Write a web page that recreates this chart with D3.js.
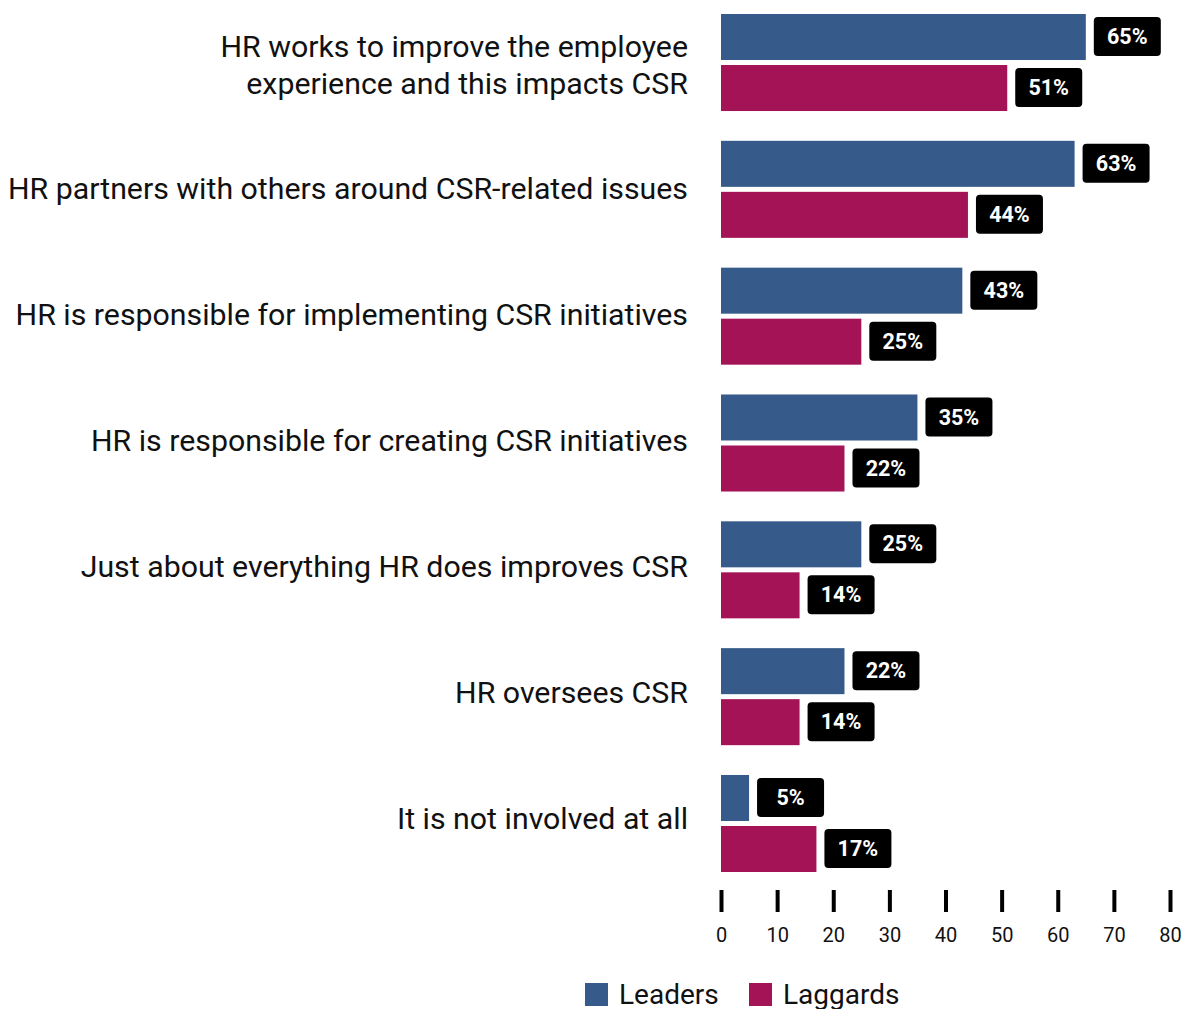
<!DOCTYPE html>
<html>
<head>
<meta charset="utf-8">
<script src="https://cdn.jsdelivr.net/npm/d3@7"></script>
<style>
  html, body { margin: 0; padding: 0; background: #fff; }
  svg { display: block; font-family: Roboto, "Noto Sans", sans-serif; }
</style>
</head>
<body>
<svg id="chart" width="1182" height="1009"></svg>
<script>
// How HR relates to corporate social responsibility, leaders vs laggards (% of respondents)
const categories = [
  ["HR works to improve the employee", "experience and this impacts CSR"],
  ["HR partners with others around CSR-related issues"],
  ["HR is responsible for implementing CSR initiatives"],
  ["HR is responsible for creating CSR initiatives"],
  ["Just about everything HR does improves CSR"],
  ["HR oversees CSR"],
  ["It is not involved at all"]
];
const seriesNames = ["Leaders", "Laggards"];
const leaders  = [65, 63, 43, 35, 25, 22, 5];
const laggards = [51, 44, 25, 22, 14, 14, 17];
const tickValues = [0, 10, 20, 30, 40, 50, 60, 70, 80];
const colors = ["#365a89", "#a41356"];

const svg = d3.select("#chart");
const catKeys = categories.map(c => c.join(" "));
const rows = catKeys.map((k, i) => ({ key: k, lines: categories[i], values: [leaders[i], laggards[i]] }));

const x = d3.scaleLinear().domain([0, 80]).range([721, 1170]);
const y0 = d3.scaleBand().domain(catKeys).range([14, 872]).paddingInner(0.235).paddingOuter(0);
const y1 = d3.scaleBand().domain(seriesNames).range([0, y0.bandwidth()]).paddingInner(0.098).paddingOuter(0);
// baselines of the category labels
const yLabel = d3.scalePoint().domain(catKeys).range([73, 829]);
const color = d3.scaleOrdinal().domain(seriesNames).range(colors);

// category labels, right aligned next to the bars
const labels = svg.append("g").selectAll("text").data(rows).join("text")
  .attr("x", 688)
  .attr("text-anchor", "end")
  .attr("font-size", 30.3)
  .attr("fill", "#111");
labels.each(function (d) {
  const base = yLabel(d.key);
  const lh = 37;
  const n = d.lines.length;
  d3.select(this).selectAll("tspan").data(d.lines).join("tspan")
    .attr("x", 688)
    .attr("y", (_, j) => base + (j - (n - 1) / 2) * lh + (n > 1 ? 2 : 0))
    .text(t => t);
});

// grouped bars
const groups = svg.append("g").selectAll("g").data(rows).join("g")
  .attr("transform", d => `translate(0,${y0(d.key)})`);

const cells = groups.selectAll("g").data(d => d.values.map((v, i) => ({ s: seriesNames[i], v }))).join("g");

cells.append("rect")
  .attr("x", x(0))
  .attr("y", d => y1(d.s))
  .attr("width", d => x(d.v) - x(0))
  .attr("height", y1.bandwidth())
  .attr("fill", d => color(d.s));

// value badges
const boxW = 67, boxH = 39;
cells.append("rect")
  .attr("x", d => x(d.v) + 8)
  .attr("y", d => y1(d.s) + y1.bandwidth() / 2 - boxH / 2 - 0.5)
  .attr("width", boxW)
  .attr("height", boxH)
  .attr("rx", 4)
  .attr("fill", "#000");

cells.append("text")
  .attr("x", d => x(d.v) + 8 + boxW / 2)
  .attr("y", d => y1(d.s) + y1.bandwidth() / 2 - 0.5)
  .attr("dy", "0.35em")
  .attr("text-anchor", "middle")
  .attr("font-size", 21.5)
  .attr("font-weight", "bold")
  .attr("fill", "#fff")
  .text(d => d.v + "%");

// x axis: thick ticks without a domain line
const axis = svg.append("g")
  .attr("transform", "translate(0,890)")
  .call(d3.axisBottom(x).tickValues(tickValues).tickSize(22).tickPadding(16).tickFormat(d3.format("d")));
axis.select(".domain").remove();
axis.selectAll(".tick line").attr("stroke", "#000").attr("stroke-width", 4).attr("y1", 0);
axis.selectAll(".tick text").attr("font-size", 20).attr("fill", "#111").attr("font-family", "Roboto, sans-serif");

// legend
const legendItems = [{ s: "Leaders", x: 585 }, { s: "Laggards", x: 749 }];
const legend = svg.append("g").selectAll("g").data(legendItems).join("g")
  .attr("transform", d => `translate(${d.x},983)`);
legend.append("rect").attr("width", 23).attr("height", 23).attr("fill", d => color(d.s));
legend.append("text")
  .attr("x", 34).attr("y", 11.5).attr("dy", "0.35em")
  .attr("font-size", 28).attr("fill", "#111")
  .text(d => d.s);
</script>
</body>
</html>
